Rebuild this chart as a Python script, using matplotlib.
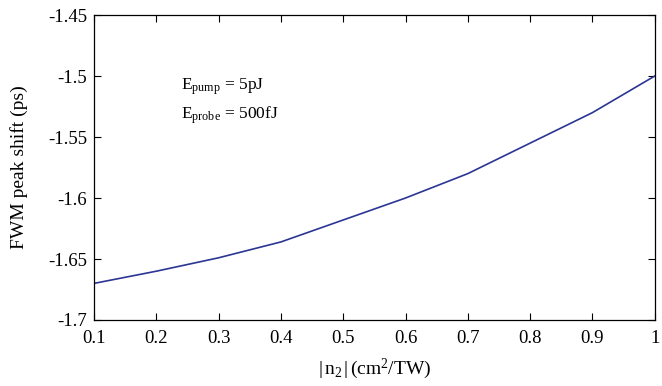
import numpy as np
import matplotlib
matplotlib.use('Agg')
import matplotlib.pyplot as plt

# data
n2 = [0.1, 0.2, 0.3, 0.4, 0.5, 0.6, 0.7, 0.8, 0.9, 1.0]
shift = [-1.670, -1.660, -1.649, -1.636, -1.618, -1.600, -1.580, -1.555, -1.530, -1.500]
xticks = [0.1, 0.2, 0.3, 0.4, 0.5, 0.6, 0.7, 0.8, 0.9, 1.0]
xticklabels = ['0.1', '0.2', '0.3', '0.4', '0.5', '0.6', '0.7', '0.8', '0.9', '1']
yticks = [-1.7, -1.65, -1.6, -1.55, -1.5, -1.45]
yticklabels = ['-1.7', '-1.65', '-1.6', '-1.55', '-1.5', '-1.45']

plt.rcParams['font.family'] = ['Liberation Serif', 'DejaVu Serif']
plt.rcParams['mathtext.fontset'] = 'custom'
plt.rcParams['mathtext.rm'] = 'Liberation Serif'
plt.rcParams['mathtext.it'] = 'Liberation Serif:italic'

fig = plt.figure(figsize=(6.62, 3.86), dpi=100)
ax = fig.add_axes([0.142, 0.171, 0.847, 0.79])

ax.plot(n2, shift, color='#2b3594', lw=1.2)

ax.set_xlim(0.1, 1.0)
ax.set_ylim(-1.7, -1.45)
ax.set_xticks(xticks)
ax.set_xticklabels(xticklabels)
ax.set_yticks(yticks)
ax.set_yticklabels(yticklabels)
ax.tick_params(direction='in', top=True, right=True, labelsize=13.5, length=5)
ax.tick_params(axis='x', pad=7)
ax.tick_params(axis='y', pad=5)
for s in ax.spines.values():
    s.set_linewidth(0.9)

ax.set_xlabel(r'$|\,\mathrm{n}_2\,|\,$(cm$^2$/TW)', fontsize=14, labelpad=7)
ax.set_ylabel('FWM peak shift (ps)', fontsize=14, labelpad=14)

ax.text(0.155, 0.765, r'E$_{\mathrm{pump}}$ = 5pJ', transform=ax.transAxes, fontsize=12.5, va='center')
ax.text(0.155, 0.67, r'E$_{\mathrm{probe}}$ = 500fJ', transform=ax.transAxes, fontsize=12.5, va='center')

fig.savefig('out.png', dpi=100)
